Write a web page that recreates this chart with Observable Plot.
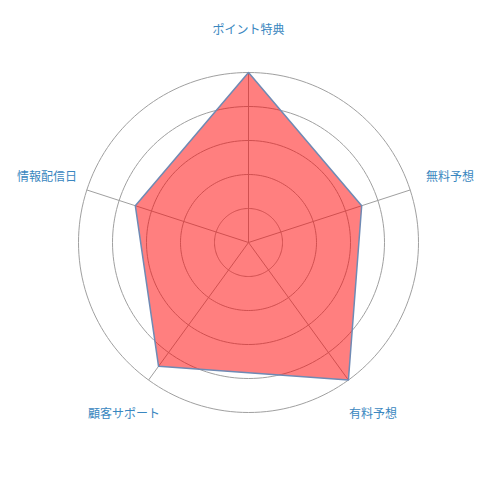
<!DOCTYPE html>
<html><head><meta charset="utf-8">
<script src="https://cdn.jsdelivr.net/npm/d3@7"></script>
<script src="https://cdn.jsdelivr.net/npm/@observablehq/plot@0.6"></script>
<style>body{margin:0;background:#fff;font-family:"Noto Sans CJK JP","Noto Sans",sans-serif}</style>
</head><body><div id="chart"></div>
<script>
const categories = ["ポイント特典", "無料予想", "有料予想", "顧客サポート", "情報配信日"];
const values = [5, 3.5, 5, 4.5, 3.5];
const ringTicks = [1, 2, 3, 4, 5];
const maxValue = 5;

const n = categories.length;
const ang = i => i * 2 * Math.PI / n; // clockwise from top
const pt = (r, i) => ({x: r * Math.sin(ang(i)), y: r * Math.cos(ang(i))});

const ringPts = ringTicks.flatMap(t => d3.range(0, 361, 2).map(a => ({
  ring: t, x: t * Math.sin(a * Math.PI / 180), y: t * Math.cos(a * Math.PI / 180)})));
const spokes = categories.map((c, i) => ({c, ...pt(maxValue, i)}));
const poly = values.map((v, i) => ({c: categories[i], ...pt(v, i)}));
const labels = categories.map((c, i) => ({c, ...pt(maxValue * 212 / 170, i)}));

const k = 34; // px per unit
const chart = Plot.plot({
  width: 500, height: 500, margin: 0,
  x: {domain: [-248 / k, 252 / k], axis: null},
  y: {domain: [-258 / k, 242 / k], axis: null},
  style: {fontFamily: '"Noto Sans CJK JP", sans-serif', background: "#fff"},
  marks: [
    Plot.line(ringPts, {x: "x", y: "y", z: "ring", stroke: "#a0a0a0", strokeWidth: 1}),
    Plot.link(spokes, {x1: 0, y1: 0, x2: "x", y2: "y", stroke: "#a0a0a0", strokeWidth: 1}),
    Plot.line(poly, {x: "x", y: "y", curve: "linear-closed", fill: "#ff0000", fillOpacity: 0.5, stroke: "#6f8ab4", strokeWidth: 1.5}),
    Plot.text(labels, {x: "x", y: "y", text: "c", fill: "#3a87c0", fontSize: 12, textAnchor: "middle"})
  ]
});
document.getElementById("chart").appendChild(chart);
</script></body></html>
